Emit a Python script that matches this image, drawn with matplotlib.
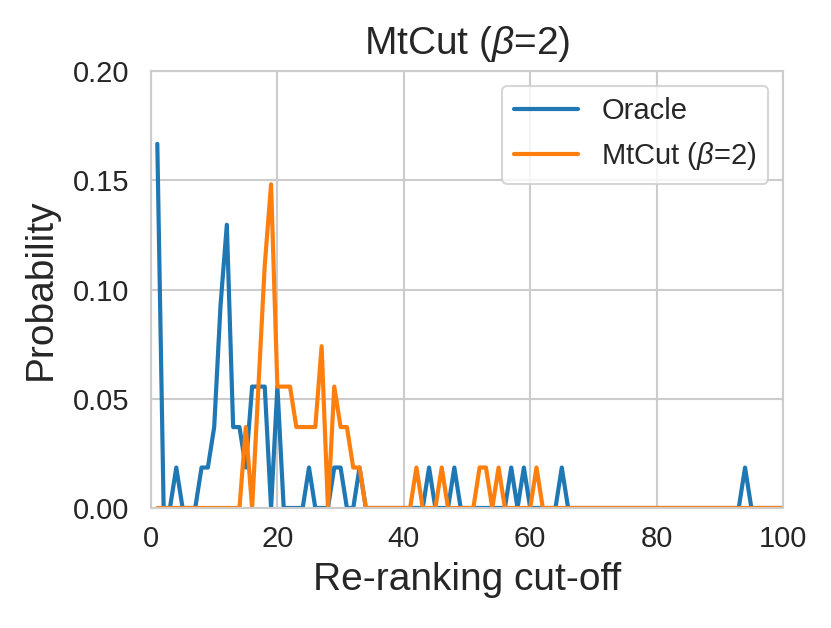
import numpy as np
import matplotlib
matplotlib.use("Agg")
import matplotlib.pyplot as plt
import seaborn as sns

# cut-off positions with non-zero mass, and counts out of N_QUERIES
N_QUERIES = 54
CUTOFFS = np.arange(1, 101)

oracle_pos = [1, 4, 8, 9, 10, 11, 12, 13, 14, 15, 16, 17, 18, 20,
              25, 29, 30, 33, 44, 48, 57, 59, 65, 94]
oracle_cnt = [9, 1, 1, 1, 2, 5, 7, 2, 2, 1, 3, 3, 3, 3,
              1, 1, 1, 1, 1, 1, 1, 1, 1, 1]

mtcut_pos = [15, 17, 18, 19, 20, 21, 22, 23, 24, 25, 26, 27, 29, 30,
             31, 32, 33, 42, 46, 52, 53, 55, 61]
mtcut_cnt = [2, 3, 6, 8, 3, 3, 3, 2, 2, 2, 2, 4, 3, 2,
             2, 1, 1, 1, 1, 1, 1, 1, 1]

xticks = [0, 20, 40, 60, 80, 100]
yticks = [0.0, 0.05, 0.10, 0.15, 0.20]


def to_prob(pos, cnt):
    p = np.zeros(len(CUTOFFS))
    p[np.array(pos) - 1] = np.array(cnt) / N_QUERIES
    return p


oracle = to_prob(oracle_pos, oracle_cnt)
mtcut = to_prob(mtcut_pos, mtcut_cnt)

sns.set_style("whitegrid")
plt.rcParams["font.family"] = ["Liberation Sans", "DejaVu Sans"]
plt.rcParams["mathtext.fontset"] = "custom"
plt.rcParams["mathtext.rm"] = "Liberation Sans"
plt.rcParams["mathtext.it"] = "Liberation Sans:italic"

fig = plt.figure(figsize=(8.31, 6.28), dpi=100)
ax = fig.add_axes([0.1817, 0.1911, 0.7605, 0.6958])

ax.plot(CUTOFFS, oracle, color="#1f77b4", lw=3, label="Oracle")
ax.plot(CUTOFFS, mtcut, color="#ff7f0e", lw=3, label=r"MtCut ($\beta$=2)")

ax.set_xlim(0, 100)
ax.set_ylim(0, 0.20)
ax.set_xticks(xticks)
ax.set_yticks(yticks)
ax.set_yticklabels([f"{v:.2f}" for v in yticks])
ax.tick_params(axis="x", labelsize=21, pad=9)
ax.tick_params(axis="y", labelsize=21, pad=12)
for s in ax.spines.values():
    s.set_color("0.8")
    s.set_linewidth(1.5)
ax.grid(color="0.8", lw=1.5)

ax.set_xlabel("Re-ranking cut-off", fontsize=28, labelpad=6)
ax.set_ylabel("Probability", fontsize=28, labelpad=10)
ax.set_title(r"MtCut ($\beta$=2)", fontsize=28, pad=12)

leg = ax.legend(loc="upper right", fontsize=21, frameon=True,
                handlelength=2.2, handletextpad=0.8)
leg.get_frame().set_edgecolor("0.8")
leg.get_frame().set_linewidth(1.5)

fig.savefig("out.png", dpi=100, facecolor="w")
